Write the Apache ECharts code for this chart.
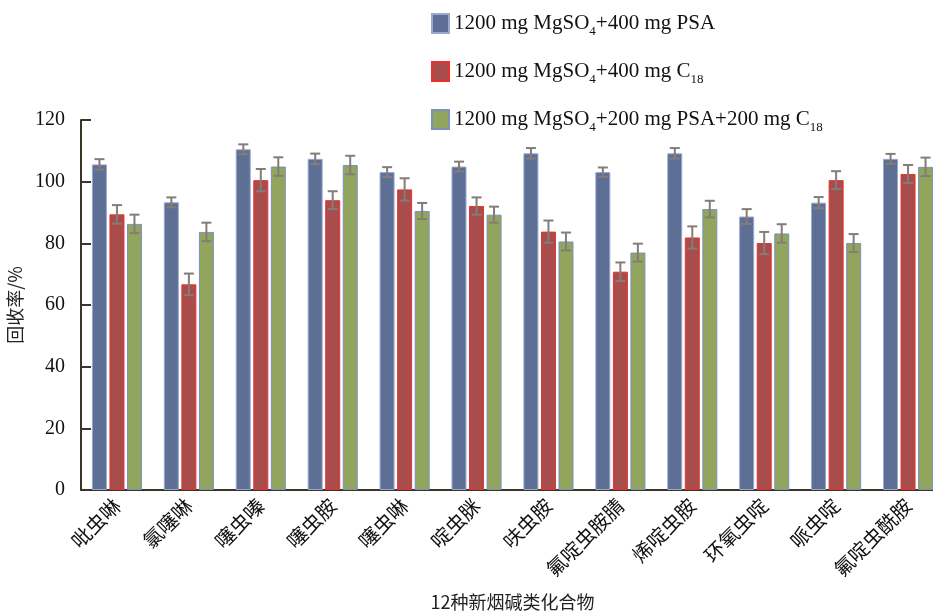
<!DOCTYPE html>
<html>
<head>
<meta charset="utf-8">
<script src="https://cdn.jsdelivr.net/npm/echarts@6/dist/echarts.min.js"></script>
<style>
  html, body { margin: 0; padding: 0; background: #fff; }
  #main { width: 933px; height: 613px; }
</style>
</head>
<body>
<div id="main"></div>
<script>
var myChart = echarts.init(document.getElementById('main'));

// 12 compounds on x axis
var categories = ['吡虫啉', '氯噻啉', '噻虫嗪', '噻虫胺', '噻虫啉', '啶虫脒', '呋虫胺', '氟啶虫胺腈', '烯啶虫胺', '环氧虫啶', '哌虫啶', '氟啶虫酰胺'];

var seriesNames = ['PSA', 'C18', 'PSA+C18'];

// recovery %
var valPSA = [105.6, 93.3, 110.5, 107.4, 103.1, 104.9, 109.2, 103.1, 109.2, 88.7, 93.2, 107.4];
var valC18 = [89.4, 66.7, 100.5, 94.0, 97.5, 92.1, 83.8, 70.8, 81.9, 80.1, 100.5, 102.5];
var valMix = [86.3, 83.7, 104.9, 105.4, 90.5, 89.3, 80.6, 77.0, 91.1, 83.2, 80.1, 104.8];

// standard deviations (error bars)
var errPSA = [1.7, 1.6, 1.6, 1.7, 1.6, 1.6, 1.7, 1.5, 1.7, 2.4, 1.8, 1.6];
var errC18 = [3.0, 3.5, 3.6, 2.9, 3.6, 2.8, 3.6, 3.0, 3.6, 3.6, 2.9, 2.9];
var errMix = [3.0, 3.0, 3.0, 3.0, 2.6, 2.6, 2.9, 2.9, 2.7, 3.0, 2.9, 3.0];

var yTicks = { min: 0, max: 120, interval: 20 };

var serif = '"Liberation Serif", "Times New Roman", serif';
var cjk = '"Noto Sans CJK SC", sans-serif';

var BAR_W = 15;
var BAR_STEP = 17.5;

function errData(vals, errs) {
    return vals.map(function (v, i) { return [i, v, errs[i]]; });
}

function errSeries(name, vals, errs, slot) {
    return {
        name: name,
        type: 'custom',
        z: 10,
        data: errData(vals, errs),
        encode: { x: 0, y: 1 },
        renderItem: function (params, api) {
            var c = api.value(0), v = api.value(1), e = api.value(2);
            var hi = api.coord([c, v + e]);
            var lo = api.coord([c, v - e]);
            var x = hi[0] + (slot - 1) * BAR_STEP;
            var cap = 5;
            var st = { stroke: '#857c78', lineWidth: 2 };
            return {
                type: 'group',
                children: [
                    { type: 'line', shape: { x1: x, y1: hi[1], x2: x, y2: lo[1] }, style: st },
                    { type: 'line', shape: { x1: x - cap, y1: hi[1], x2: x + cap, y2: hi[1] }, style: st },
                    { type: 'line', shape: { x1: x - cap, y1: lo[1], x2: x + cap, y2: lo[1] }, style: st }
                ]
            };
        }
    };
}

var richSub = {
    sub: { fontSize: 13, fontFamily: serif, color: '#111', padding: [16, 0, 0, 0] }
};

option = {
    animation: false,
    backgroundColor: '#fff',
    legend: {
        orient: 'vertical',
        left: 426,
        top: 8,
        icon: 'rect',
        itemWidth: 17,
        itemHeight: 19,
        itemGap: 23,
        data: seriesNames,
        formatter: function (name) {
            if (name === 'PSA') return '1200 mg MgSO{sub|4}+400 mg PSA';
            if (name === 'C18') return '1200 mg MgSO{sub|4}+400 mg C{sub|18}';
            return '1200 mg MgSO{sub|4}+200 mg PSA+200 mg C{sub|18}';
        },
        textStyle: {
            fontFamily: serif,
            fontSize: 21,
            color: '#111',
            rich: richSub
        }
    },
    grid: {
        left: 81,
        right: -11,
        top: 120,
        bottom: 123,
        outerBoundsMode: 'none',
        containLabel: false
    },
    xAxis: {
        type: 'category',
        data: categories,
        name: '12种新烟碱类化合物',
        nameLocation: 'middle',
        nameGap: 103,
        nameTextStyle: { fontFamily: cjk, fontSize: 18, color: '#222' },
        axisLine: { lineStyle: { color: '#3a3528', width: 2 } },
        axisTick: { show: false },
        axisLabel: {
            rotate: 45,
            interval: 0,
            margin: 12,
            fontFamily: cjk,
            fontSize: 20,
            color: '#111'
        }
    },
    yAxis: {
        type: 'value',
        min: yTicks.min,
        max: yTicks.max,
        interval: yTicks.interval,
        name: '回收率/%',
        nameLocation: 'middle',
        nameGap: 51,
        nameTextStyle: { fontFamily: cjk, fontSize: 18, color: '#222' },
        axisLine: { show: true, lineStyle: { color: '#3a3528', width: 2 } },
        axisTick: { show: true, inside: true, length: 10, lineStyle: { color: '#3a3528', width: 2 } },
        axisLabel: { fontFamily: serif, fontSize: 20, color: '#111', margin: 16 },
        splitLine: { show: false }
    },
    series: [
        {
            name: 'PSA',
            type: 'bar',
            data: valPSA,
            barWidth: BAR_W,
            barGap: '17%',
            itemStyle: { color: '#5e6f96', borderColor: '#9aa8cf', borderWidth: 1 }
        },
        {
            name: 'C18',
            type: 'bar',
            data: valC18,
            barWidth: BAR_W,
            barGap: '17%',
            itemStyle: { color: '#a94c4c', borderColor: '#e8332c', borderWidth: 1 }
        },
        {
            name: 'PSA+C18',
            type: 'bar',
            data: valMix,
            barWidth: BAR_W,
            barGap: '17%',
            itemStyle: { color: '#92a55c', borderColor: '#7c8fc2', borderWidth: 1 }
        },
        errSeries('errPSA', valPSA, errPSA, 0),
        errSeries('errC18', valC18, errC18, 1),
        errSeries('errMix', valMix, errMix, 2)
    ]
};

myChart.setOption(option);
</script>
</body>
</html>
